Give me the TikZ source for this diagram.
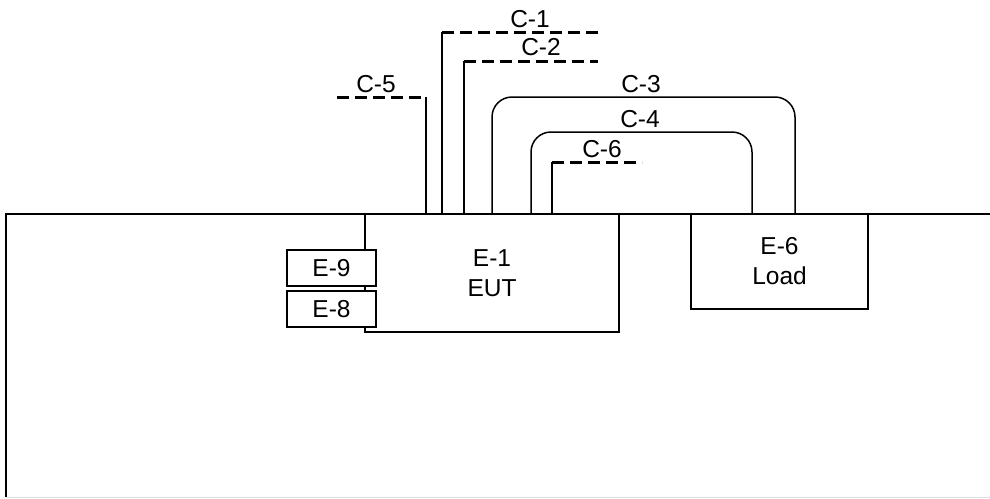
\documentclass[tikz,border=0pt]{standalone}
\usepackage{fontspec}
\setmainfont{Liberation Sans}
\begin{document}
\begin{tikzpicture}[x=1pt,y=-1pt,
  every node/.style={font=\fontsize{24.5}{30}\selectfont},
  box/.style={draw, line width=1.6pt, inner sep=0pt, align=center, fill=white},
  cable/.style={line width=1.5pt},
  shield/.style={line width=3pt, dash pattern=on 12pt off 6pt},
  lab/.style={anchor=base, inner sep=0pt}]
\useasboundingbox (0,0) rectangle (990,498);
% ground plane / table
\draw[line width=1.6pt] (990,214) -- (6,214) -- (6,497);
\draw[black!12, line width=1pt] (6,497.5) -- (990,497.5);
% equipment
\node[box, minimum width=254pt, minimum height=118pt] (e1) at (492,273) {E-1\\EUT};
\node[box, minimum width=177pt, minimum height=95pt] (e6) at (779.5,261.5) {E-6\\Load};
\node[box, minimum width=89pt, minimum height=36pt] (e9) at (331.5,268) {E-9};
\node[box, minimum width=89pt, minimum height=36pt] (e8) at (331.5,309) {E-8};
% cable end points
\coordinate (c5b) at (426,214); \coordinate (c5t) at (426,97); \coordinate (c5e) at (337,97);
\coordinate (c1b) at (442,214); \coordinate (c1t) at (442,32); \coordinate (c1e) at (598,32);
\coordinate (c2b) at (464,214); \coordinate (c2t) at (464,61); \coordinate (c2e) at (598,61);
\coordinate (c3a) at (492,214); \coordinate (c3b) at (795,214);
\coordinate (c4a) at (531,214); \coordinate (c4b) at (752,214);
\coordinate (c6b) at (552,214); \coordinate (c6t) at (552,162); \coordinate (c6e) at (642,162);
% C-5
\draw[cable] (c5b) -- (c5t);
\draw[shield] (c5e) -- (c5t);
\node[lab] (l5) at (376,92) {C-5};
% C-1
\draw[cable] (c1b) -- (c1t);
\draw[shield] (c1t) -- (c1e);
\node[lab] (l1) at (530,27) {C-1};
% C-2
\draw[cable] (c2b) -- (c2t);
\draw[shield] (c2t) -- (c2e);
\node[lab] (l2) at (541,55) {C-2};
% C-3
\draw[cable, rounded corners=20pt] (c3a) -- (492,97) -- (795,97) -- (c3b);
\node[lab] (l3) at (641,92) {C-3};
% C-4
\draw[cable, rounded corners=20pt] (c4a) -- (531,132) -- (752,132) -- (c4b);
\node[lab] (l4) at (640,127) {C-4};
% C-6
\draw[cable] (c6b) -- (c6t);
\draw[shield] (c6t) -- (c6e);
\node[lab] (l6) at (602,157) {C-6};
\end{tikzpicture}
\end{document}
